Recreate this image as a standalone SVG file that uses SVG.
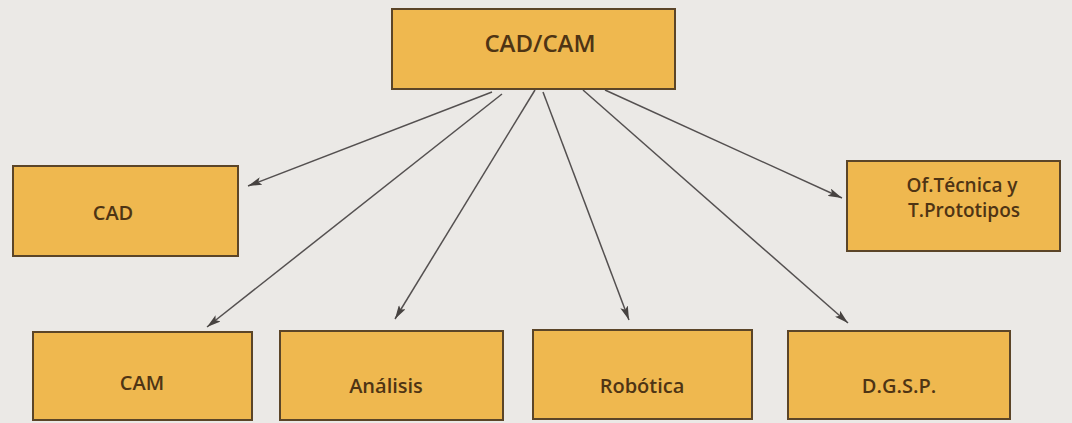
<svg xmlns="http://www.w3.org/2000/svg" width="1072" height="423" viewBox="0 0 1072 423">
  <defs>
    <marker id="ah" viewBox="0 0 14 8" refX="14" refY="4" markerWidth="14" markerHeight="8" markerUnits="userSpaceOnUse" orient="auto">
      <path d="M0,0 L14,4 L0,8 L3,4 Z" fill="#474341"/>
    </marker>
    <style>
      .box { fill: #efb84f; stroke: #5b4528; stroke-width: 2; }
      .lbl { font-family: "Open Sans", "Liberation Sans", sans-serif; font-weight: 600; font-size: 20px; fill: #4e3414; text-anchor: middle; }
      .big { font-size: 24px; }
      .mid { font-size: 19px; }
      .con { stroke: #545050; stroke-width: 1.5; fill: none; marker-end: url(#ah); }
    </style>
  </defs>
  <rect x="0" y="0" width="1072" height="423" fill="#ebe9e6"/>

  <g id="connectors">
    <line class="con" x1="492" y1="92" x2="248" y2="186"/>
    <line class="con" x1="502" y1="94" x2="207" y2="327"/>
    <line class="con" x1="535" y1="90" x2="395" y2="319"/>
    <line class="con" x1="543" y1="92" x2="629" y2="320"/>
    <line class="con" x1="583" y1="90" x2="848" y2="323"/>
    <line class="con" x1="605" y1="90" x2="842" y2="198"/>
  </g>

  <g id="node-cadcam">
    <rect class="box" x="392" y="9" width="283" height="80"/>
    <text class="lbl big" x="540" y="52">CAD/CAM</text>
  </g>
  <g id="node-cad">
    <rect class="box" x="13" y="166" width="225" height="90"/>
    <text class="lbl" x="113" y="220">CAD</text>
  </g>
  <g id="node-oftecnica">
    <rect class="box" x="847" y="161" width="213" height="90"/>
    <text class="lbl mid" x="962" y="192">Of.Técnica y</text>
    <text class="lbl mid" x="964" y="217">T.Prototipos</text>
  </g>
  <g id="node-cam">
    <rect class="box" x="33" y="332" width="219" height="88"/>
    <text class="lbl" x="142" y="390">CAM</text>
  </g>
  <g id="node-analisis">
    <rect class="box" x="280" y="331" width="223" height="89"/>
    <text class="lbl" x="386" y="393">Análisis</text>
  </g>
  <g id="node-robotica">
    <rect class="box" x="533" y="330" width="219" height="89"/>
    <text class="lbl" x="642" y="393">Robótica</text>
  </g>
  <g id="node-dgsp">
    <rect class="box" x="788" y="331" width="222" height="88"/>
    <text class="lbl" x="899" y="393">D.G.S.P.</text>
  </g>
</svg>
